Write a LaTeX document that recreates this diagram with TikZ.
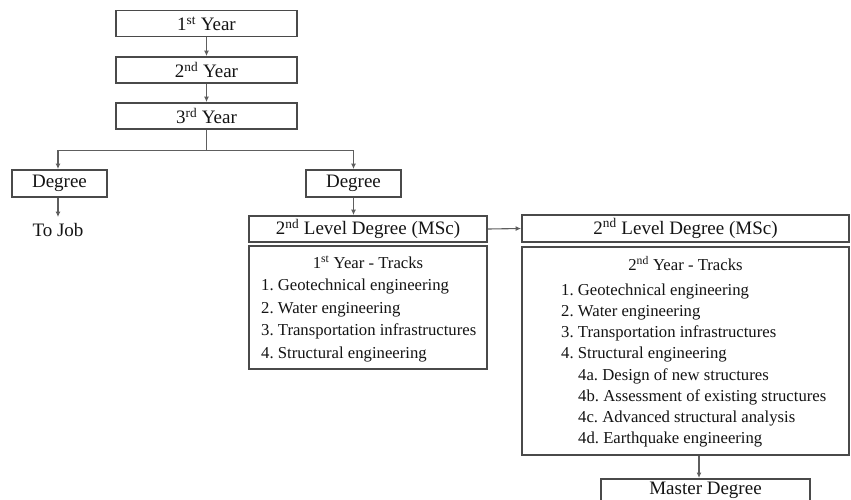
\documentclass[tikz,border=0pt]{standalone}
\usepackage{fontspec}
\setmainfont{Liberation Serif}
\usetikzlibrary{arrows.meta,calc}
\frenchspacing
\definecolor{edgegray}{HTML}{4A4A4A}
\definecolor{linegray}{HTML}{5E5E5E}
\definecolor{txt}{HTML}{141414}
\tikzset{
  box/.style={draw=edgegray, line width=1.8pt, fill=white, inner sep=0pt, text=txt,
    font=\fontsize{19}{22}\selectfont},
  lbl/.style={inner sep=0pt, text=txt, font=\fontsize{19}{22}\selectfont},
  item/.style={inner sep=0pt, text=txt, font=\fontsize{16.7}{20}\selectfont, anchor=base west},
  ttl/.style={inner sep=0pt, text=txt, font=\fontsize{16.7}{20}\selectfont, anchor=base},
  arr/.style={draw=linegray, line width=1.1pt, -{Latex[length=5.5pt,width=5pt]}},
  ln/.style={draw=linegray, line width=1.1pt}
}
\begin{document}
\begin{tikzpicture}[x=1pt,y=-1pt]
\useasboundingbox (0,0) rectangle (851,499);
\clip (0,0) rectangle (851,499);
\node[box, minimum width=181pt, minimum height=26pt] (y1) at (206.5,23.5) {1\textsuperscript{st} Year};
\node[box, minimum width=181pt, minimum height=26pt] (y2) at (206.5,70) {2\textsuperscript{nd} Year};
\node[box, minimum width=181pt, minimum height=26pt] (y3) at (206.5,116) {3\textsuperscript{rd} Year};
\node[box, minimum width=95pt, minimum height=27pt] (degL) at (59.5,183.5) {Degree};
\node[box, minimum width=95pt, minimum height=27pt] (degR) at (353.5,183.5) {Degree};
\node[lbl] (job) at (58,230) {To Job};
\node[box, minimum width=238pt, minimum height=26pt] (msc1) at (368,229) {2\textsuperscript{nd} Level Degree (MSc)};
\node[box, minimum width=238pt, minimum height=123pt] (tr1) at (368,307.5) {};
\node[box, minimum width=327pt, minimum height=27pt] (msc2) at (685.5,228.5) {2\textsuperscript{nd} Level Degree (MSc)};
\node[box, minimum width=327pt, minimum height=208pt] (tr2) at (685.5,351) {};
\node[box, minimum width=209pt, minimum height=22pt, anchor=north] (master) at (705.5,478) {Master Degree};

% track box 1 contents
\node[ttl] (t1h) at (368,268.5) {1\textsuperscript{st} Year - Tracks};
\node[item] (t1a) at (261,290.5) {1. Geotechnical engineering};
\node[item] (t1b) at (261,313) {2. Water engineering};
\node[item] (t1c) at (261,335.5) {3. Transportation infrastructures};
\node[item] (t1d) at (261,358) {4. Structural engineering};

% track box 2 contents
\node[ttl] (t2h) at (685.5,270.5) {2\textsuperscript{nd} Year - Tracks};
\node[item] (t2a) at (561,295) {1. Geotechnical engineering};
\node[item] (t2b) at (561,316.5) {2. Water engineering};
\node[item] (t2c) at (561,337.5) {3. Transportation infrastructures};
\node[item] (t2d) at (561,358.5) {4. Structural engineering};
\node[item] (t2e) at (578,380) {4a. Design of new structures};
\node[item] (t2f) at (578,401.5) {4b. Assessment of existing structures};
\node[item] (t2g) at (578,422.5) {4c. Advanced structural analysis};
\node[item] (t2h) at (578,443.5) {4d. Earthquake engineering};

% connectors
\draw[arr] (y1.south) -- (y2.north);
\draw[arr] (y2.south) -- (y3.north);
\coordinate (j) at ($(y3.south)+(0,21)$);
\draw[ln] (y3.south) -- (j);
\draw[arr] (j) -| ([xshift=-1.5pt]degL.north);
\draw[arr] (j) -| (degR.north);
\draw[arr] ([xshift=-1.5pt]degL.south) -- ([yshift=6pt]job.north);
\draw[arr] (degR.south) -- (degR.south |- msc1.north);
\draw[arr] (msc1.east) -- (msc2.west);
\draw[arr] ([xshift=-6.5pt]master.north |- tr2.south) -- ([xshift=-6.5pt]master.north);
\end{tikzpicture}
\end{document}
